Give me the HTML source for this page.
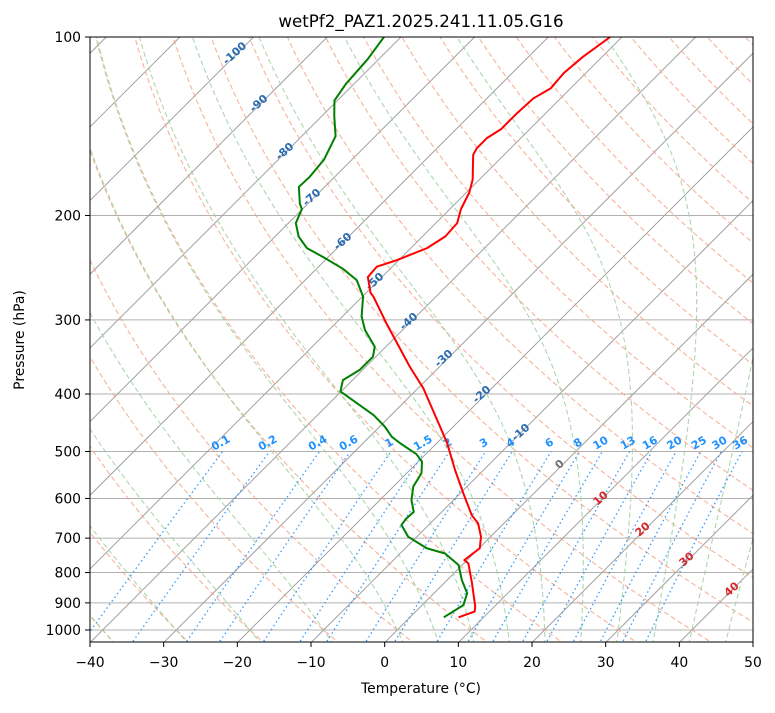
<!DOCTYPE html>
<html><head><meta charset="utf-8">
<style>
body{margin:0;background:#fff;}
svg text{font-family:"DejaVu Sans","Liberation Sans",sans-serif;}
</style></head>
<body>
<svg id="chart" width="775" height="708" viewBox="0 0 775 708" xmlns="http://www.w3.org/2000/svg">
<rect x="0" y="0" width="775" height="708" fill="#fff"/>
<defs><clipPath id="clip"><rect x="90" y="37" width="663" height="605"/></clipPath></defs>
<text x="421" y="27" text-anchor="middle" font-size="16.7" fill="#000">wetPf2_PAZ1.2025.241.11.05.G16</text>
<g id="bg" clip-path="url(#clip)"></g>
<g id="lbl"></g>
<g id="prof" clip-path="url(#clip)"></g>
<rect x="90" y="37" width="663" height="605" fill="none" stroke="#000" stroke-width="1"/>
<g id="axes"></g>
<text x="421" y="693" text-anchor="middle" font-size="13.9">Temperature (°C)</text>
<text transform="translate(24,340) rotate(-90)" text-anchor="middle" font-size="13.9">Pressure (hPa)</text>
</svg>
<script>
const redP=[952,931,913,834,772,762,728,696,661,640,588,537,484,454,391,360,304,274,270,254,244,238,227,217,206,195,183,174,158,154,148,143,135,127,122,115,108,100];
const redT=[6.6,8.0,7.4,3.8,0.6,-0.4,0.1,-1.3,-3.5,-5.5,-9.6,-13.9,-18.6,-21.8,-29.3,-34.0,-43.1,-48.5,-49.4,-51.9,-52.1,-50.3,-47.8,-46.9,-47.1,-48.5,-49.6,-50.9,-54.2,-54.6,-54.6,-53.9,-53.9,-53.7,-52.7,-53.0,-52.6,-51.6];
const dewP=[952,908,867,824,777,743,728,696,665,648,632,604,573,544,520,505,484,472,454,434,396,379,364,346,333,312,296,274,257,246,235,227,217,206,195,191,179,172,161,147,136,128,120,109,100];
const dewT=[4.6,5.6,4.5,2.0,-0.5,-3.9,-7.1,-11.2,-13.7,-13.9,-13.8,-15.7,-17.3,-18.0,-19.5,-21.3,-25.0,-27.0,-29.3,-32.4,-40.1,-41.3,-40.4,-40.4,-41.5,-45.1,-47.4,-49.9,-53.0,-56.4,-60.7,-64.1,-66.8,-69.0,-70.1,-71.1,-73.5,-73.4,-73.8,-75.4,-78.3,-80.4,-81.1,-81.5,-82.3];
const xTicks=[-40,-30,-20,-10,0,10,20,30,40,50];
const pTicks=[100,200,300,400,500,600,700,800,900,1000];
const mixVals=[0.1,0.2,0.4,0.6,1,1.5,2,3,4,6,8,10,13,16,20,25,30,36];

const NS="http://www.w3.org/2000/svg";
const X0=90,X1=753,Y0=37,YB=642.6,PXD=(X1-X0)/90,PYD=593;
function yP(p){return Y0+(Math.log10(p)-2)*PYD;}
function xT(t,p){return X0+(t+40)*PXD+(YB-yP(p));}
function mk(tag,attrs,parent){const e=document.createElementNS(NS,tag);for(const k in attrs)e.setAttribute(k,attrs[k]);parent.appendChild(e);return e;}
function pathFrom(ts,ps){let d="";for(let i=0;i<ts.length;i++){d+=(i?"L":"M")+xT(ts[i],ps[i]).toFixed(2)+","+yP(ps[i]).toFixed(2);}return d;}
const bg=document.getElementById('bg'),lbl=document.getElementById('lbl'),prof=document.getElementById('prof'),axes=document.getElementById('axes');
const pres=[];for(let p=1060;p>=95;p-=5)pres.push(p);

pTicks.forEach(p=>{const l=mk('line',{x1:X0,x2:X1,y1:yP(p),y2:yP(p),stroke:'#b0b0b0','stroke-width':1},bg);

});
for(let t=-160;t<=60;t+=10){const l=mk('line',{x1:xT(t,1060),y1:yP(1060),x2:xT(t,95),y2:yP(95),stroke:'#a0a0a0','stroke-width':1},bg);

}
for(let t0=-40;t0<=200;t0+=10){const th=t0+273.15;const ts=pres.map(p=>th*Math.pow(p/1000,0.2857)-273.15);
const e=mk('path',{d:pathFrom(ts,pres),fill:'none',stroke:'#f4a488','stroke-opacity':0.85,'stroke-width':1.1,'stroke-dasharray':'5,3'},bg);

}
const Rd=287.04,Cp=1005.7,Lv=2.501e6,eps=0.622;
function dTdp(T,p){const tc=T-273.15;const es=6.112*Math.exp(17.67*tc/(tc+243.5));const rs=eps*es/(p-es);
return (Rd*T+Lv*rs)/(Cp+Lv*Lv*rs*eps/(Rd*T*T))/p;}
function moist(t0){const res={};let T=t0+273.15,p=1000;res[1000]=T;
function step(h){const k1=dTdp(T,p),k2=dTdp(T+h*k1/2,p+h/2),k3=dTdp(T+h*k2/2,p+h/2),k4=dTdp(T+h*k3,p+h);T+=h*(k1+2*k2+2*k3+k4)/6;p+=h;}
while(p<1060){step(5);res[Math.round(p)]=T;}T=t0+273.15;p=1000;while(p>95){step(-5);res[Math.round(p)]=T;}
return pres.map(pp=>res[pp]-273.15);}
const moistT0=[-40,-30,-20,-10,0,5,10,15,20,25,30,35,40,45,50];
moistT0.forEach(t0=>{const ts=moist(t0);const e=mk('path',{d:pathFrom(ts,pres),fill:'none',stroke:'#9fd09f','stroke-opacity':0.85,'stroke-width':1.1,'stroke-dasharray':'5,3'},bg);

});
function tdFromW(w,p){const e=p*w/(622+w);const l=Math.log(e/6.112);return 243.5*l/(17.67-l);}
const mp=[];for(let p=1060;p>=500;p-=10)mp.push(p);
mixVals.forEach(w=>{const ts=mp.map(p=>tdFromW(w,p));const e=mk('path',{d:pathFrom(ts,mp),fill:'none',stroke:'#1e90ff','stroke-opacity':0.9,'stroke-width':1.3,'stroke-dasharray':'1.5,3'},bg);


const x=xT(tdFromW(w,500),500);
const t=mk('text',{x:0,y:0,transform:`translate(${x.toFixed(1)},446) rotate(-30)`,'text-anchor':'middle','font-size':11,'font-weight':'bold',fill:'#1e90ff'},lbl);t.textContent=String(w);

});
const isoLab=[[-100,237,52],[-90,261,102],[-80,287,150],[-70,314,196],[-60,345,240],[-50,377,280],[-40,411,320],[-30,446,357],[-20,484,393],[-10,523,431],[0,562,463],[10,603,497],[20,645,528],[30,689,558],[40,734,588]];
isoLab.forEach(a=>{const col=a[0]<0?'#2b6cb0':(a[0]==0?'#707070':'#d62728');
const t=mk('text',{x:0,y:0,transform:`translate(${a[1]},${a[2]+4}) rotate(-42)`,'text-anchor':'middle','font-size':11,'font-weight':'bold',fill:col},lbl);t.textContent=String(a[0]);

});
const tp=mk('path',{d:pathFrom(redT,redP),fill:'none',stroke:'#ff0000','stroke-width':2,'stroke-linejoin':'round'},prof);


const dp=mk('path',{d:pathFrom(dewT,dewP),fill:'none',stroke:'#008000','stroke-width':2,'stroke-linejoin':'round'},prof);


xTicks.forEach(t=>{const x=X0+(t+40)*PXD;const l=mk('line',{x1:x,x2:x,y1:642,y2:647,stroke:'#000'},axes);


const tx=mk('text',{x:x,y:667,'text-anchor':'middle','font-size':13.9},axes);tx.textContent=(t<0?'\u2212'+(-t):String(t));

});
pTicks.forEach(p=>{const y=yP(p);const l=mk('line',{x1:85,x2:90,y1:y,y2:y,stroke:'#000'},axes);


const tx=mk('text',{x:81,y:y+5,'text-anchor':'end','font-size':13.9},axes);tx.textContent=String(p);

});
</script>
</body></html>
